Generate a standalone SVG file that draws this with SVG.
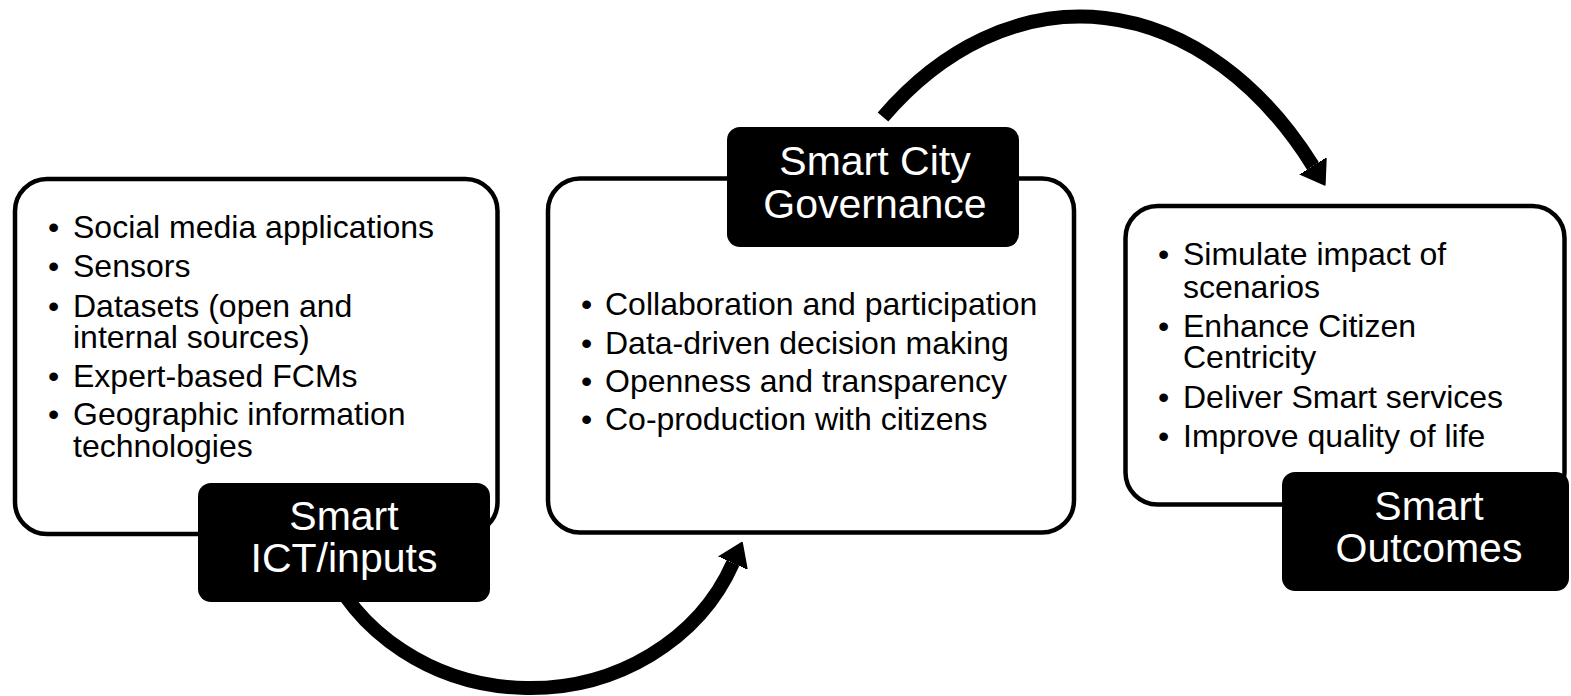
<svg xmlns="http://www.w3.org/2000/svg" width="1571" height="696" viewBox="0 0 1571 696">
  <style>
    .box { fill: #ffffff; stroke: #000000; stroke-width: 4.5; }
    .tab { fill: #000000; stroke: none; }
    .item { font-family: "Liberation Sans", Arial, sans-serif; font-size: 32px; fill: #000000; }
    .label { font-family: "Liberation Sans", Arial, sans-serif; font-size: 41px; fill: #ffffff; text-anchor: middle; }
    .arc { fill: none; stroke: #000000; stroke-width: 14; }
  </style>
  <defs>
    <marker id="head" markerUnits="userSpaceOnUse" markerWidth="30" markerHeight="36" refX="0" refY="18" orient="auto" viewBox="0 0 30 36">
      <path d="M0,3 L22,18 L0,33 Z" fill="#000000" stroke="#000000" stroke-width="2" stroke-linejoin="round"/>
    </marker>
  </defs>
  <rect width="1571" height="696" fill="#ffffff"/>

  <g id="connectors">
    <path class="arc" d="M 324 556 A 219 200 0 0 0 733 563" marker-end="url(#head)"/>
    <path class="arc" d="M 883 117 A 313 450 0 0 1 1313 166" marker-end="url(#head)"/>
  </g>

  <g id="node-inputs">
    <rect class="box" x="15" y="179" width="482.5" height="355" rx="32"/>
    <text class="item" x="48" y="238">•</text><text class="item" x="73" y="238">Social media applications</text>
    <text class="item" x="48" y="277">•</text><text class="item" x="73" y="277">Sensors</text>
    <text class="item" x="48" y="317">•</text><text class="item" x="73" y="317">Datasets (open and</text>
    <text class="item" x="73" y="348">internal sources)</text>
    <text class="item" x="48" y="387">•</text><text class="item" x="73" y="387">Expert-based FCMs</text>
    <text class="item" x="48" y="425">•</text><text class="item" x="73" y="425">Geographic information</text>
    <text class="item" x="73" y="457">technologies</text>
    <rect class="tab" x="198" y="483" width="292" height="119" rx="13"/>
    <text class="label" x="344" y="530">Smart</text>
    <text class="label" x="344" y="572">ICT/inputs</text>
  </g>

  <g id="node-governance">
    <rect class="box" x="548" y="178.5" width="526" height="354" rx="32"/>
    <text class="item" x="581" y="315">•</text><text class="item" x="605" y="315">Collaboration and participation</text>
    <text class="item" x="581" y="354">•</text><text class="item" x="605" y="354">Data-driven decision making</text>
    <text class="item" x="581" y="392">•</text><text class="item" x="605" y="392">Openness and transparency</text>
    <text class="item" x="581" y="430">•</text><text class="item" x="605" y="430">Co-production with citizens</text>
    <rect class="tab" x="727" y="127" width="292" height="120" rx="13"/>
    <text class="label" x="875" y="175">Smart City</text>
    <text class="label" x="875" y="218">Governance</text>
  </g>

  <g id="node-outcomes">
    <rect class="box" x="1125.5" y="206" width="439" height="298.5" rx="32"/>
    <text class="item" x="1158" y="265">•</text><text class="item" x="1183" y="265">Simulate impact of</text>
    <text class="item" x="1183" y="298">scenarios</text>
    <text class="item" x="1158" y="337">•</text><text class="item" x="1183" y="337">Enhance Citizen</text>
    <text class="item" x="1183" y="368">Centricity</text>
    <text class="item" x="1158" y="408">•</text><text class="item" x="1183" y="408">Deliver Smart services</text>
    <text class="item" x="1158" y="447">•</text><text class="item" x="1183" y="447">Improve quality of life</text>
    <rect class="tab" x="1282" y="472" width="287" height="119" rx="13"/>
    <text class="label" x="1429" y="520">Smart</text>
    <text class="label" x="1429" y="562">Outcomes</text>
  </g>
</svg>
